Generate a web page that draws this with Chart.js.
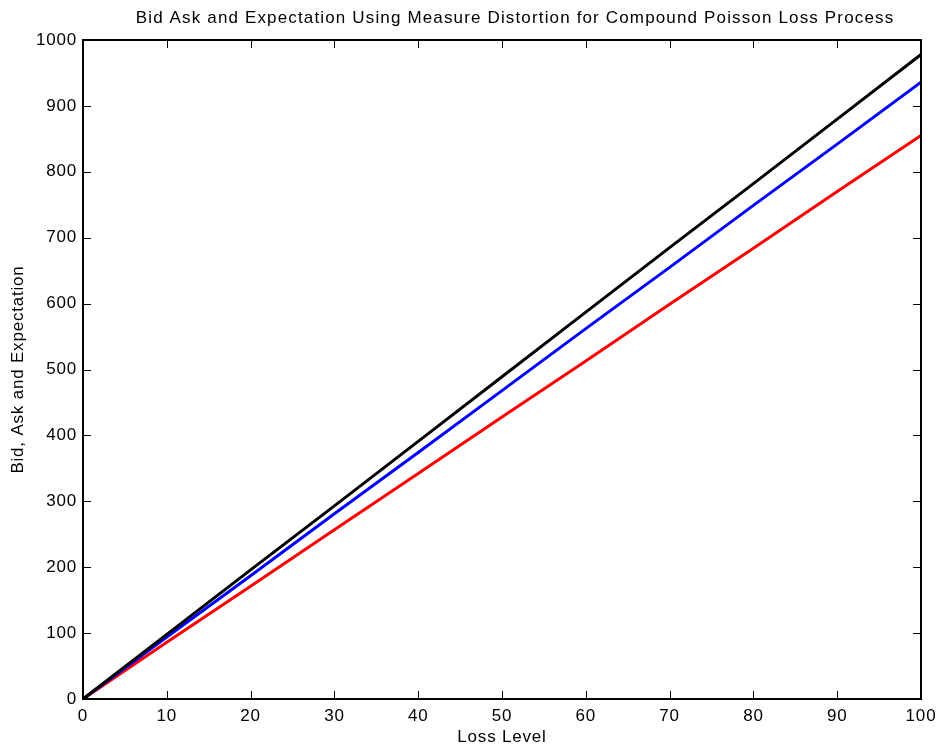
<!DOCTYPE html>
<html>
<head>
<meta charset="utf-8">
<script src="https://cdn.jsdelivr.net/npm/chart.js@4.4.0/dist/chart.umd.min.js"></script>
<style>
  html, body { margin: 0; padding: 0; background: #fff; }
  #wrap { width: 943px; height: 750px; }
</style>
</head>
<body>
<div id="wrap"><canvas id="lossChart" width="943" height="750"></canvas></div>
<script>
// ── data ──
const lossLevel   = [0, 10, 20, 30, 40, 50, 60, 70, 80, 90, 100];
const askValues   = [0, 98, 196, 293, 391, 489, 587, 685, 782, 880, 978];   // black
const expValues   = [0, 94, 187, 281, 374, 468, 562, 655, 749, 842, 936];   // blue
const bidValues   = [0, 86, 171, 257, 342, 428, 513, 599, 684, 770, 855];   // red

const titleText  = 'Bid Ask and Expectation Using Measure Distortion for Compound Poisson Loss Process';
const xLabelText = 'Loss Level';
const yLabelText = 'Bid, Ask and Expectation';

const FONT = '"Liberation Sans", Arial, sans-serif';

const toPoints = (ys) => ys.map((y, i) => ({ x: lossLevel[i], y }));

// wider glyph spacing like the matlab export
const spacing = {
    id: 'spacing',
    beforeDraw(chart) {
        chart.ctx.letterSpacing = '0.8px';
    }
};

// frame + inward ticks on all four sides, matlab style
const matlabFrame = {
    id: 'matlabFrame',
    afterDraw(chart) {
        const { ctx, chartArea: a, scales } = chart;
        const tl = 8;
        ctx.save();
        ctx.strokeStyle = '#000';
        ctx.lineWidth = 1;
        scales.x.ticks.forEach(t => {
            const px = Math.round(scales.x.getPixelForValue(t.value)) + 0.5;
            ctx.beginPath();
            ctx.moveTo(px, a.bottom); ctx.lineTo(px, a.bottom - tl);
            ctx.moveTo(px, a.top);    ctx.lineTo(px, a.top + tl);
            ctx.stroke();
        });
        scales.y.ticks.forEach(t => {
            const py = Math.round(scales.y.getPixelForValue(t.value)) + 0.5;
            ctx.beginPath();
            ctx.moveTo(a.left, py);  ctx.lineTo(a.left + tl, py);
            ctx.moveTo(a.right, py); ctx.lineTo(a.right - tl, py);
            ctx.stroke();
        });
        ctx.lineWidth = 2;
        ctx.strokeRect(a.left, a.top, a.right - a.left, a.bottom - a.top);

        // title
        ctx.fillStyle = '#000';
        ctx.font = '17px ' + FONT;
        ctx.letterSpacing = '1.15px';
        ctx.textAlign = 'center';
        ctx.textBaseline = 'middle';
        ctx.fillText(titleText, 515, 18);
        ctx.restore();
    }
};

new Chart(document.getElementById('lossChart'), {
    type: 'line',
    data: {
        datasets: [
            { label: 'Ask', data: toPoints(askValues), borderColor: '#000000' },
            { label: 'Expectation', data: toPoints(expValues), borderColor: '#0000ff' },
            { label: 'Bid', data: toPoints(bidValues), borderColor: '#ff0000' }
        ]
    },
    options: {
        responsive: false,
        animation: false,
        layout: { padding: { top: 40, right: 22, left: 0, bottom: 0 } },
        elements: {
            point: { radius: 0 },
            line: { borderWidth: 3, tension: 0 }
        },
        plugins: {
            legend: { display: false },
            title: { display: false },
            tooltip: { enabled: false }
        },
        scales: {
            x: {
                type: 'linear',
                min: 0, max: 100,
                grid: { display: false, drawTicks: false },
                border: { display: false },
                ticks: { stepSize: 10, color: '#000', padding: 7, font: { family: FONT, size: 17 },
                         callback: (v) => String(v) },
                title: { display: true, text: xLabelText, color: '#000', padding: { top: 0, bottom: 2 }, font: { family: FONT, size: 17 } },
                afterFit(scale) { scale.height = 51; }
            },
            y: {
                type: 'linear',
                min: 0, max: 1000,
                grid: { display: false, drawTicks: false },
                border: { display: false },
                ticks: { stepSize: 100, color: '#000', padding: 6, font: { family: FONT, size: 17 },
                         callback: (v) => String(v) },
                title: { display: true, text: yLabelText, color: '#000', padding: { top: 8, bottom: 4 }, font: { family: FONT, size: 17 } },
                afterFit(scale) { scale.width = 83; }
            }
        }
    },
    plugins: [spacing, matlabFrame]
});
</script>
</body>
</html>
